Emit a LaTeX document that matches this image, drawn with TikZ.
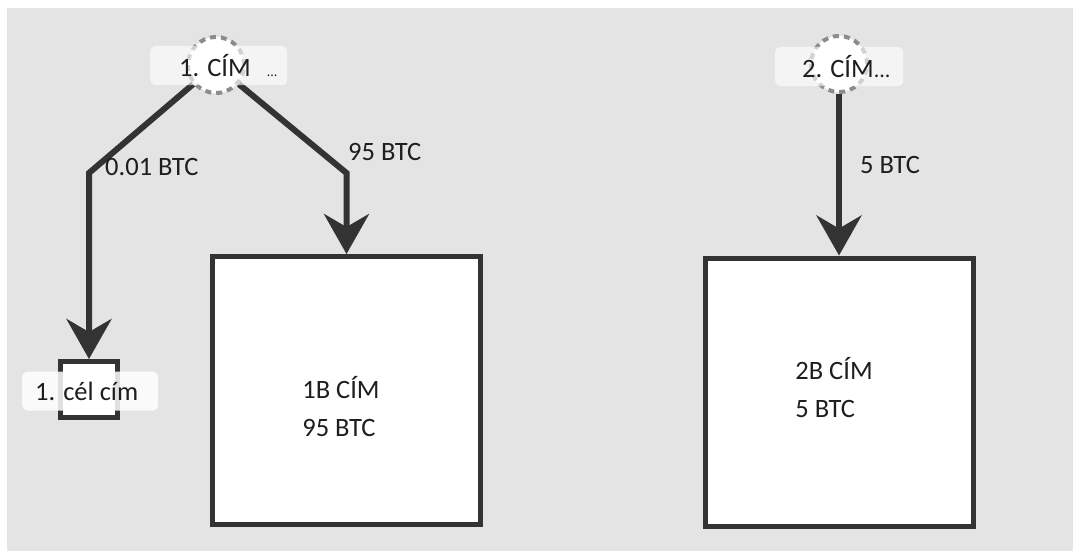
\documentclass[tikz,border=0pt]{standalone}
\usepackage{fontspec}
\setmainfont{Carlito}
\usetikzlibrary{arrows.meta}
\pgfdeclarelayer{bg}
\pgfdeclarelayer{edges}
\pgfsetlayers{bg,edges,main}
\definecolor{bggray}{HTML}{E4E4E4}
\definecolor{ink}{HTML}{333333}
\definecolor{dashgray}{HTML}{8C8C8C}
\definecolor{txt}{HTML}{1E1E1E}
\begin{document}
\begin{tikzpicture}[x=1pt,y=-1pt,
  every node/.style={text=txt, font=\fontsize{26.5}{38}\selectfont},
  addr/.style={circle, draw=dashgray, line width=4pt, dash pattern=on 6pt off 5pt, fill=white, minimum size=56pt, inner sep=0pt},
  tag/.style={fill=white, fill opacity=0.6, text opacity=1, rounded corners=5pt, inner sep=0pt, minimum height=39pt, anchor=west},
  wallet/.style={draw=ink, line width=5pt, fill=white, minimum width=268pt, minimum height=268pt, inner sep=0pt},
  smallbox/.style={draw=ink, line width=5pt, fill=white, minimum width=57pt, minimum height=56pt, inner sep=0pt},
  flow/.style={draw=ink, line width=6pt, line join=miter, -{Stealth[length=40pt,width=45pt,inset=13pt]}},
  amount/.style={inner sep=0pt, anchor=west}
]
\useasboundingbox (0,0) rectangle (1073,551);
\begin{pgfonlayer}{bg}
  \fill[bggray] (7,8) rectangle (1073,551);
\end{pgfonlayer}

% wallets
\node[wallet] (b1) at (346.5,390.5) {};
\node[align=left, inner sep=0pt] (b1t) at (341,407) {1B CÍM\\95 BTC};
\node[wallet] (b2) at (839,392) {};
\node[align=left, inner sep=0pt] (b2t) at (834,388) {2B CÍM\\5 BTC};
\node[smallbox] (sb) at (89,389.5) {};
\node[tag, fill opacity=0.85, minimum width=136pt] (sbl) at (22,391) {\makebox[136pt][l]{\hspace{13pt}1. cél cím}};

% source addresses
\node[addr] (c1) at (216,65) {};
\node[tag] (c1l) at (150,65.5) {\makebox[137pt][l]{\hspace{29pt}1. CÍM\hspace{16pt}{\fontsize{14}{14}\selectfont...}}};
\node[addr] (c2) at (839,64) {};
\node[tag] (c2l) at (775,66.5) {\makebox[128pt][l]{\hspace{27pt}2. CÍM{\fontsize{22}{22}\selectfont...}}};

% bends
\coordinate (k1) at (89,173);
\coordinate (k2) at (346.5,173);

\begin{pgfonlayer}{edges}
  \draw[flow] (c1.220) -- (k1) -- (sb.north);
  \draw[flow] (c1.320) -- (k2) -- (b1.north);
  \draw[flow] (c2.south) -- (b2.north);
\end{pgfonlayer}

% amounts
\node[amount] (a1) at (105,167) {0.01 BTC};
\node[amount] (a2) at (348,152) {95 BTC};
\node[amount] (a3) at (860,165) {5 BTC};
\end{tikzpicture}
\end{document}
